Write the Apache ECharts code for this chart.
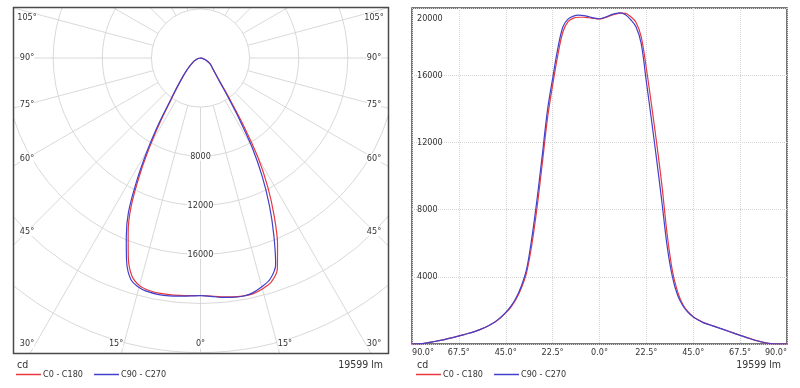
<!DOCTYPE html>
<html><head><meta charset="utf-8">
<script src="https://cdn.jsdelivr.net/npm/echarts@6/dist/echarts.min.js"></script>
<style>
html,body{margin:0;padding:0;background:#fff;}
#left{position:absolute;left:0;top:0;width:400px;height:388px;}
#right{position:absolute;left:400px;top:0;width:400px;height:388px;}
</style></head><body>
<div id="left"></div><div id="right"></div>
<script>
// ---- data ----
const gammaAngles = [-90,-85,-80,-75,-70,-65,-60,-55,-50,-47.5,-45,-42.5,-40,-37.5,-35,-32.5,-30,-27.5,-25,-22.5,-20,-17.5,-15,-12.5,-10,-7.5,-5,-2.5,0,2.5,5,7.5,10,12.5,15,17.5,20,22.5,25,27.5,30,32.5,35,37.5,40,42.5,45,47.5,50,55,60,65,70,75,80,85,90];
const c0c180 = [0,20,130,250,390,560,740,980,1330,1560,1850,2200,2680,3330,4250,5900,8100,10700,13400,15400,17200,18600,19200,19400,19450,19450,19420,19380,19350,19420,19530,19630,19700,19680,19480,19150,18300,16400,14200,11900,9400,6500,4350,3100,2350,1920,1630,1430,1270,1060,850,630,420,220,70,0,0];
const c90c270 = [0,20,130,250,390,560,740,980,1330,1580,1880,2250,2750,3450,4450,6300,8600,11200,13900,15800,17600,18900,19350,19520,19570,19550,19480,19400,19360,19440,19570,19670,19710,19600,19300,18880,17900,15600,13300,10900,8400,5800,4000,2900,2280,1880,1610,1420,1260,1050,840,620,410,210,60,0,0];
const seriesNames = ['C0 - C180', 'C90 - C270'];
const seriesColors = ['#e8383d', '#4141cc'];
const xTickLabels = ['90.0°','67.5°','45.0°','22.5°','0.0°','22.5°','45.0°','67.5°','90.0°'];
const radiusTickLabels = ['8000','12000','16000'];
const sideAngleLabels = [105, 90, 75, 60, 45, 30];
const bottomAngleLabels = [15, 0];
const unitText = 'cd';
const fluxText = '19599 lm';

// ---- styling ----
const FONT = "'Liberation Sans Narrow','DejaVu Sans Condensed','Liberation Sans',sans-serif";
const TXT = '#333';
const GRID = '#d9d9d9';
const BORDER = '#4a4a4a';
const TICKFONT = 9;

// polar geometry
const cx = 200.5, cy = 58, r4000 = 49.1, rMax = 343.7;
const box = {l: 13, t: 7, r: 388, b: 353};

function polarData(vals) {
  return gammaAngles.map((g, i) => [vals[i], g >= 0 ? g : 360 + g]);
}

function footer(rightX) {
  return [
    {type:'text', x: 17, y: 365, z: 110, style:{text: unitText, font: '10.5px ' + FONT, fill: TXT, align:'left', verticalAlign:'middle'}},
    {type:'text', x: rightX, y: 365, z: 110, style:{text: fluxText, font: '10.5px ' + FONT, fill: TXT, align:'right', verticalAlign:'middle'}}
  ];
}

function legendCfg() {
  return {
    left: 16, top: 370, padding: 0, z: 120, icon: 'rect', itemWidth: 25, itemHeight: 1.5, itemGap: 11,
    data: seriesNames,
    textStyle: {fontSize: 9, fontFamily: FONT, color: TXT, padding: [0, 0, 0, -3]}
  };
}

// ---- left polar chart ----
const left = echarts.init(document.getElementById('left'), null, {renderer: 'canvas'});
const gfx = [];
const cover = {fill: '#fff'};
// empty centre (no grid inside the 4000 cd ring)
gfx.push({type:'circle', z:2, shape:{cx: cx, cy: cy, r: r4000}, style:{fill:'#fff'}});
// covers outside the box
gfx.push({type:'rect', z:100, shape:{x:0,y:0,width:400,height:box.t}, style:cover});
gfx.push({type:'rect', z:100, shape:{x:0,y:0,width:box.l,height:388}, style:cover});
gfx.push({type:'rect', z:100, shape:{x:box.r,y:0,width:400-box.r,height:388}, style:cover});
gfx.push({type:'rect', z:100, shape:{x:0,y:box.b,width:400,height:388-box.b}, style:cover});
gfx.push({type:'rect', z:101, shape:{x:box.l+0.5,y:box.t+0.5,width:box.r-box.l,height:box.b-box.t}, style:{fill:'none', stroke:BORDER, lineWidth:1.5}});
// angle labels
const insetDx = cx - 27;
const lblStyle = (t) => ({text: t, font: TICKFONT + 'px ' + FONT, fill: TXT, align: 'center', verticalAlign: 'middle', backgroundColor: '#fff'});
sideAngleLabels.forEach(a => {
  const rad = a * Math.PI / 180;
  let y = cy + insetDx * Math.cos(rad) / Math.sin(rad);
  y = Math.max(18, Math.min(344, y));
  gfx.push({type:'text', z:102, x: cx - insetDx, y: y, style: lblStyle(a + '°')});
  gfx.push({type:'text', z:102, x: cx + insetDx, y: y, style: lblStyle(a + '°')});
});
bottomAngleLabels.forEach(a => {
  const dx = (373 - cy) * Math.tan(a * Math.PI / 180);
  gfx.push({type:'text', z:102, x: cx - dx, y: 344, style: lblStyle(a + '°')});
  if (a !== 0) gfx.push({type:'text', z:102, x: cx + dx, y: 344, style: lblStyle(a + '°')});
});
footer(383).forEach(g => gfx.push(g));

left.setOption({
  animation: false,
  backgroundColor: '#fff',
  polar: {center: [cx, cy], radius: [0, rMax]},
  angleAxis: {
    type: 'value', min: 0, max: 360, interval: 15, startAngle: -90, clockwise: false, z: 1,
    axisLine: {show: false}, axisTick: {show: false}, axisLabel: {show: false},
    splitLine: {show: true, lineStyle: {color: GRID, width: 1}}
  },
  radiusAxis: {
    type: 'value', min: 0, max: 28000, interval: 4000, z: 3,
    axisLine: {show: false}, axisTick: {show: false},
    splitLine: {show: true, lineStyle: {color: [GRID, GRID, GRID, GRID, GRID, GRID, GRID, 'rgba(0,0,0,0)'], width: 1}},
    axisLabel: {
      show: true, margin: 0, align: 'center', verticalAlign: 'middle', rotate: 0,
      fontSize: TICKFONT, fontFamily: FONT, color: TXT, backgroundColor: '#fff',
      showMinLabel: true, showMaxLabel: true,
      formatter: v => radiusTickLabels.includes(String(v)) ? String(v) : ''
    }
  },
  legend: legendCfg(),
  series: [
    {name: seriesNames[0], type: 'line', coordinateSystem: 'polar', data: polarData(c0c180), color: seriesColors[0],
     symbol: 'none', smooth: 0.3, z: 5, lineStyle: {width: 1.2}},
    {name: seriesNames[1], type: 'line', coordinateSystem: 'polar', data: polarData(c90c270), color: seriesColors[1],
     symbol: 'none', smooth: 0.3, z: 6, lineStyle: {width: 1.2}}
  ],
  graphic: gfx
});

// ---- right cartesian chart ----
const right = echarts.init(document.getElementById('right'), null, {renderer: 'canvas'});
right.setOption({
  animation: false,
  backgroundColor: '#fff',
  grid: {left: 12, right: 13, top: 8, bottom: 44, show: true, borderColor: BORDER, borderWidth: 1.5, outerBoundsMode: 'none', containLabel: false},
  xAxis: {
    type: 'value', min: -90, max: 90, interval: 22.5,
    axisLine: {show: false}, axisTick: {show: false},
    axisLabel: {fontSize: TICKFONT, fontFamily: FONT, color: TXT, margin: 4, showMinLabel: true, showMaxLabel: true,
      alignMinLabel: 'left', alignMaxLabel: 'right',
      formatter: v => xTickLabels[Math.round((v + 90) / 22.5)]},
    splitLine: {show: true, lineStyle: {type: 'dotted', color: '#d4d4d4'}}
  },
  yAxis: {
    type: 'value', min: 0, max: 20000, interval: 4000,
    axisLine: {show: false}, axisTick: {show: false},
    axisLabel: {inside: true, margin: 5, fontSize: TICKFONT, fontFamily: FONT, color: TXT,
      showMinLabel: false, showMaxLabel: true, verticalAlignMaxLabel: 'top',
      formatter: v => v === 20000 ? '{t|' + v + '}' : String(v),
      rich: {t: {fontSize: TICKFONT, fontFamily: FONT, color: TXT, padding: [6, 0, 0, 0]}}},
    splitLine: {show: true, lineStyle: {type: 'dotted', color: '#d4d4d4'}}
  },
  legend: legendCfg(),
  series: [
    {name: seriesNames[0], type: 'line', data: gammaAngles.map((g, i) => [g, c0c180[i]]), color: seriesColors[0],
     symbol: 'none', smooth: 0.35, z: 5, lineStyle: {width: 1.2}},
    {name: seriesNames[1], type: 'line', data: gammaAngles.map((g, i) => [g, c90c270[i]]), color: seriesColors[1],
     symbol: 'none', smooth: 0.35, z: 6, lineStyle: {width: 1.2}}
  ],
  graphic: footer(381)
});
</script>
</body></html>
